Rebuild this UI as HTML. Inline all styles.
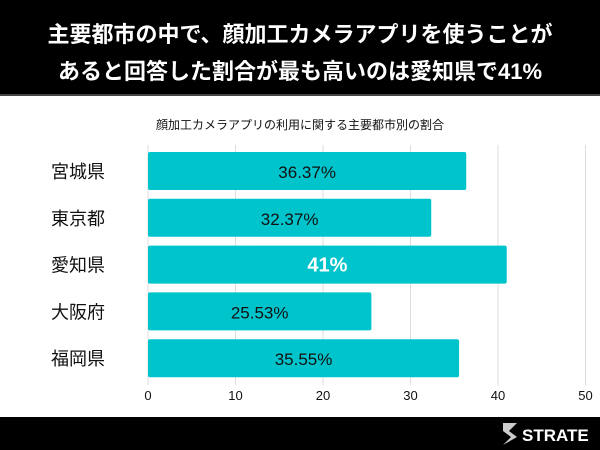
<!DOCTYPE html>
<html><head><meta charset="utf-8"><style>
body{margin:0;width:600px;height:450px;overflow:hidden;background:#fff;font-family:"Liberation Sans","Noto Sans CJK JP",sans-serif;}
#hdr{position:absolute;left:0;top:0;width:600px;height:96px;background:#000;color:#fff;font-weight:bold;font-size:22px;text-align:center;line-height:37px;padding-top:16px;box-sizing:border-box;border-bottom:2px solid #444}
#ftr{position:absolute;left:0;top:417px;width:600px;height:33px;background:#000}
</style></head><body>
<div id="hdr">主要都市の中で、顔加工カメラアプリを使うことが<br>あると回答した割合が最も高いのは愛知県で41%</div>
<svg id="chart" width="600" height="450" style="position:absolute;left:0;top:0">
<text x="300" y="129" text-anchor="middle" font-size="12" fill="#111">顔加工カメラアプリの利用に関する主要都市別の割合</text>
<g id="grid"></g><g id="bars"></g><g id="ticks"></g>
</svg>
<div id="ftr">
<svg width="600" height="33" style="position:absolute;left:0;top:0">
<path d="M503 6 L517 6 L509 14 L517 20 L503 28 L511 20 L503 14Z" fill="#ccc"/>
<text x="522" y="24" fill="#fff" font-weight="bold" font-size="17">STRATE</text>
</svg></div>
<script>
const categories=["宮城県","東京都","愛知県","大阪府","福岡県"];
const values=[36.37,32.37,41,25.53,35.55];
const labels=["36.37%","32.37%","41%","25.53%","35.55%"];
const ticks=[0,10,20,30,40,50];
const ns="http://www.w3.org/2000/svg";
const x=v=>148+v*8.75;
const y=i=>152+i*46.8;
function mk(t,a,p){const e=document.createElementNS(ns,t);for(const k in a)e.setAttribute(k,a[k]);p.appendChild(e);return e;}
const grid=document.getElementById('grid'),bars=document.getElementById('bars'),tk=document.getElementById('ticks');
ticks.forEach(t=>{
 const l=mk('line',{x1:x(t),x2:x(t),y1:145,y2:385,stroke:'#ddd','stroke-width':1},grid);
 
 
 const s=mk('text',{x:x(t),y:400,'text-anchor':'middle','font-size':13,fill:'#111'},tk);
 s.textContent=t;
 
 
});
categories.forEach((c,i)=>{
 const r=mk('rect',{x:x(0),y:y(i),width:x(values[i])-x(0),height:38,rx:2,fill:'#00c4cc'},bars);
 
 
 const cl=mk('text',{x:78,y:y(i)+26,'text-anchor':'middle','font-size':18,fill:'#111'},bars);
 cl.textContent=c;
 
 
 const big=values[i]===Math.max(...values);
 const v=mk('text',{x:(x(0)+x(values[i]))/2,y:y(i)+26,'text-anchor':'middle','font-size':big?20:17,'font-weight':big?'bold':'normal',fill:big?'#fff':'#111'},bars);
 v.textContent=labels[i];
 
 
});
</script>
</body></html>
